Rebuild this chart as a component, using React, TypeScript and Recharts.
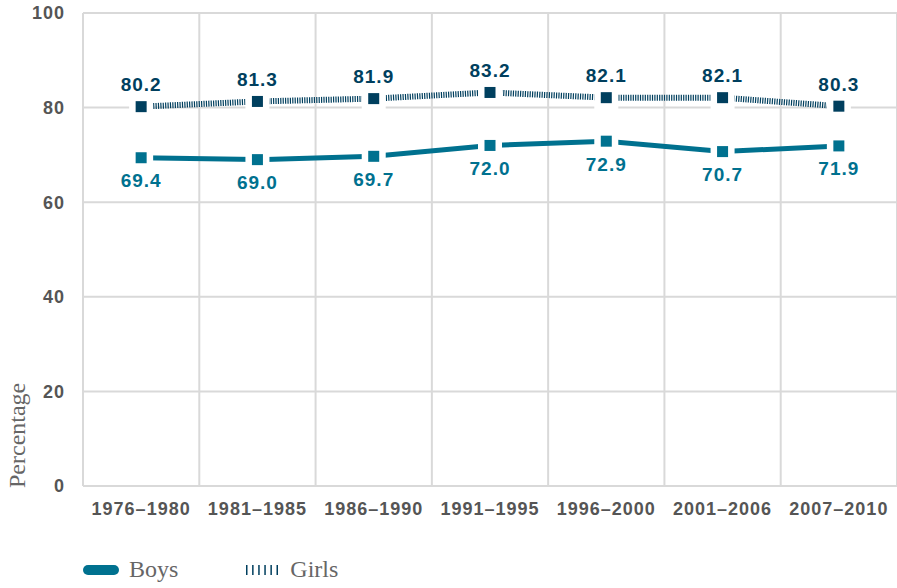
import { ComposedChart, Line, XAxis, YAxis, CartesianGrid, LabelList } from "recharts"

const periods = ["1976–1980", "1981–1985", "1986–1990", "1991–1995", "1996–2000", "2001–2006", "2007–2010"]
const boys = [69.4, 69.0, 69.7, 72.0, 72.9, 70.7, 71.9]
const girls = [80.2, 81.3, 81.9, 83.2, 82.1, 82.1, 80.3]
const yTicks = [0, 20, 40, 60, 80, 100]

const BOYS = "#00718f"
const GIRLS = "#003f5e"
const GRID = "#d9d9d9"
const SANS = "'Liberation Sans', Arial, sans-serif"
const SERIF = "'Liberation Serif', 'DejaVu Serif', serif"

// each period sits in the middle of its own column
const data = periods.map((p, i) => ({ pos: i + 0.5, period: p, boys: boys[i], girls: girls[i] }))
const columnEdges = periods.map((_, i) => i).concat(periods.length)
const labelTicks = data.map((d) => d.pos)

const squareDot = (color: string) => (props: any) => {
  const { cx, cy, index } = props
  if (cx == null || cy == null) return <g key={index} />
  return (
    <g key={index}>
      <rect x={cx - 12} y={cy - 12} width={24} height={24} fill="#fff" />
      <rect x={cx - 5.5} y={cy - 5.5} width={11} height={11} fill={color} />
    </g>
  )
}

const valueLabel = (color: string, dy: number) => (props: any) => {
  const { x, y, value, index } = props
  return (
    <text
      key={index}
      x={x}
      y={y + dy}
      textAnchor="middle"
      dominantBaseline="central"
      fill={color}
      fontSize={19}
      fontWeight="bold"
      letterSpacing={1}
      fontFamily={SANS}
    >
      {Number(value).toFixed(1)}
    </text>
  )
}

const yLabel = (props: any) => {
  const { viewBox } = props
  const x = 25
  const y = viewBox.y + viewBox.height + 2
  return (
    <text
      x={x}
      y={y}
      transform={`rotate(-90, ${x}, ${y})`}
      textAnchor="start"
      fill="#666"
      fontSize={24}
      fontFamily={SERIF}
    >
      Percentage
    </text>
  )
}

// vertical lines on the column boundaries
const columnLines = ({ offset }: any) =>
  columnEdges.map((e) => offset.left + (offset.width * e) / periods.length)

export default function App() {
  return (
    <div style={{ position: "absolute", top: 0, left: 0, width: 897, height: 588, background: "#fff" }}>
      <ComposedChart width={897} height={540} data={data} margin={{ top: 13, right: 0, left: 0, bottom: 14 }}>
        <CartesianGrid stroke={GRID} strokeWidth={2} verticalCoordinatesGenerator={columnLines} />
        <XAxis
          dataKey="pos"
          type="number"
          domain={[0, periods.length]}
          ticks={labelTicks}
          tickFormatter={(v: number) => periods[Math.floor(v)]}
          axisLine={false}
          tickLine={false}
          height={40}
          tickMargin={10}
          tick={{ fill: "#555", fontSize: 18, fontWeight: "bold", letterSpacing: 1, fontFamily: SANS }}
          interval={0}
        />
        <YAxis
          domain={[0, 100]}
          ticks={yTicks}
          width={83}
          axisLine={false}
          tickLine={false}
          tickMargin={12}
          tick={{ fill: "#555", fontSize: 18, fontWeight: "bold", letterSpacing: 1, fontFamily: SANS }}
          label={yLabel}
        />
        <Line
          dataKey="girls"
          stroke={GIRLS}
          strokeWidth={6}
          strokeDasharray="1.2 1.2"
          dot={squareDot(GIRLS)}
          activeDot={false}
          isAnimationActive={false}
        >
          <LabelList dataKey="girls" content={valueLabel(GIRLS, -22)} />
        </Line>
        <Line
          dataKey="boys"
          stroke={BOYS}
          strokeWidth={5}
          dot={squareDot(BOYS)}
          activeDot={false}
          isAnimationActive={false}
        >
          <LabelList dataKey="boys" content={valueLabel(BOYS, 23)} />
        </Line>
      </ComposedChart>
      <div
        style={{
          position: "absolute",
          top: 556,
          left: 83,
          display: "flex",
          alignItems: "center",
          fontFamily: SERIF,
          fontSize: 24,
          color: "#666",
        }}
      >
        <svg width={36} height={10} style={{ marginRight: 10 }}>
          <rect x={0} y={0} width={36} height={10} rx={5} fill={BOYS} />
        </svg>
        <span style={{ marginRight: 68 }}>Boys</span>
        <svg width={32} height={10} style={{ marginRight: 12 }}>
          <line x1={0} y1={5} x2={32} y2={5} stroke={GIRLS} strokeWidth={10} strokeDasharray="1.5 4.6" />
        </svg>
        <span>Girls</span>
      </div>
    </div>
  )
}
